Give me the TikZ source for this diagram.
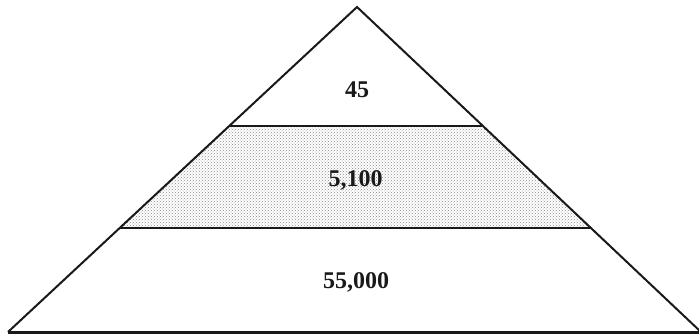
\documentclass[tikz,border=0pt]{standalone}
\usepackage{fontspec}
\setmainfont{Liberation Serif}
\usetikzlibrary{patterns}
\tikzset{
  edge/.style={draw=black!90, line width=2pt, line join=miter},
  baseline/.style={draw=black!90, line width=3pt},
  band/.style={fill=white, postaction={pattern=crosshatch dots, pattern color=black!45}},
  lbl/.style={font=\fontsize{24}{27}\selectfont\bfseries, text=black!90, inner sep=0pt}
}
\begin{document}
\begin{tikzpicture}[x=1pt,y=-1pt]
\useasboundingbox (0,0) rectangle (699,335);
\coordinate (apex) at (357,7);
\coordinate (bl) at (8,332);
\coordinate (br) at (701,332);
\coordinate (ul) at (230.3,125.5);
\coordinate (ur) at (481.9,125.5);
\coordinate (ll) at (119.7,228);
\coordinate (lr) at (590.9,228);
% shaded middle band
\path[band] (ul) -- (ur) -- (lr) -- (ll) -- cycle;
% band separators
\draw[edge] (ul) -- (ur);
\draw[edge] (ll) -- (lr);
% outline
\draw[edge] (bl) -- (apex) -- (br);
\draw[baseline] (bl) -- (br);
% labels
\node[lbl] (top) at (357,90) {45};
\node[lbl] (mid) at (355.5,180) {5,100};
\node[lbl] (bot) at (356,282) {55,000};
\end{tikzpicture}
\end{document}
